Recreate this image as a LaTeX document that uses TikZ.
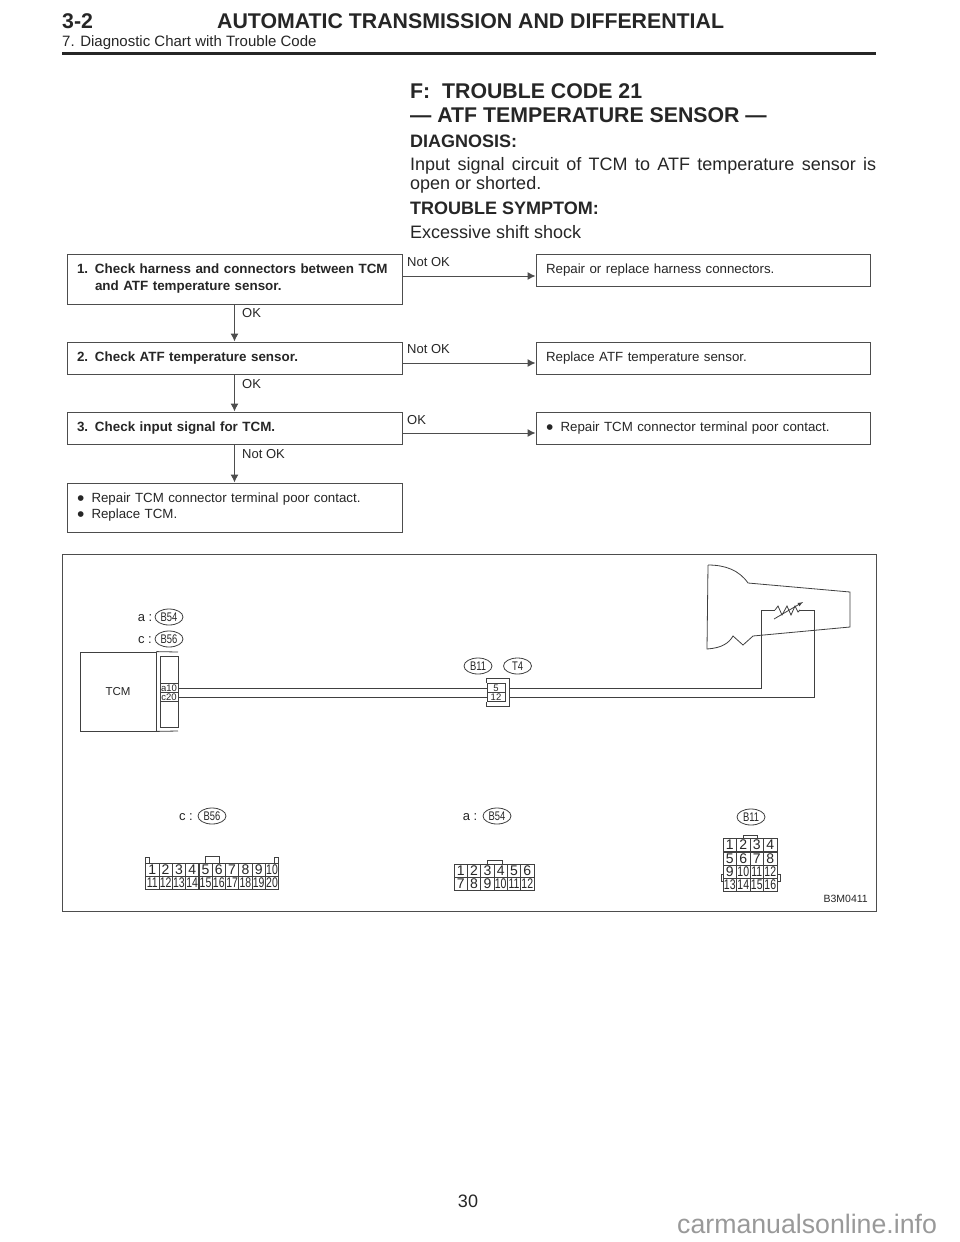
\documentclass[tikz,border=0pt]{standalone}
\usepackage{fontspec}
\setmainfont{Liberation Sans}
\newfontfamily\wirefont[FakeStretch=0.75]{Liberation Sans}
\usetikzlibrary{shapes.geometric,arrows.meta}
\definecolor{mantext}{HTML}{262626}
\definecolor{manline}{HTML}{4D4D4D}
\definecolor{manwire}{HTML}{404040}
\definecolor{manmark}{HTML}{999999}
\newcommand{\stepno}[1]{\makebox[18pt][l]{#1}}
\newcommand{\dotmark}{\makebox[14.5pt][l]{\raisebox{-2.6pt}{\fontsize{21}{16}\selectfont\textbullet}}}
\newcommand{\pinno}[1]{\ifnum#1<10 #1\else{\wirefont#1}\fi}

\begin{document}
\begin{tikzpicture}[
        x=1pt, y=-1pt,
        every node/.style={text=mantext},
        txt/.style={anchor=base west, inner sep=0pt},
        step box/.style={
          draw=manline, line width=1pt, fill=white,
          minimum width=335pt, text width=315pt,
          inner xsep=10pt, inner ysep=0pt, align=left,
          font=\fontsize{13.4}{17}\selectfont\bfseries,
        },
        fix box/.style={
          draw=manline, line width=1pt, fill=white,
          minimum width=334pt, minimum height=32pt, text width=314pt,
          inner xsep=10pt, inner ysep=0pt, align=left,
          font=\fontsize{13.3}{17}\selectfont,
        },
        flow/.style={-{Latex[length=8pt,width=8pt]}, draw=manline, line width=1pt},
        lbl/.style={txt, font=\fontsize{13}{15}\selectfont},
        wire/.style={draw=manwire, line width=0.8pt},
        plug/.style={draw=manwire, line width=0.8pt, ellipse, inner sep=0pt,
          minimum width=28pt, minimum height=16pt,
          font=\wirefont\fontsize{12.5}{14}\selectfont},
        side/.style={inner sep=0pt, font=\fontsize{13}{14}\selectfont},
        term/.style={draw=manwire, line width=0.8pt, inner sep=0pt,
          minimum width=18pt, minimum height=9pt,
          font=\fontsize{9.5}{10}\selectfont},
        pin/.style={draw=manwire, line width=0.7pt, inner sep=0pt,
          minimum width=13.4pt, minimum height=13pt,
          font=\fontsize{14}{14}\selectfont},
      ]
      \path[fill=white] (0,0) rectangle (960,1242);
      \useasboundingbox (0,0) rectangle (960,1242);

      % page head
      \node[txt, font=\fontsize{21.3}{24}\selectfont\bfseries] (hnum) at (62,28) {3-2};
      \node[txt, font=\fontsize{21.3}{24}\selectfont\bfseries] (htitle) at (217,28) {AUTOMATIC TRANSMISSION AND DIFFERENTIAL};
      \node[txt, font=\fontsize{15}{18}\selectfont] (hsub) at (62,46) {7. Diagnostic Chart with Trouble Code};
      \fill[mantext] (62,51.5) rectangle (876,54.5);

      % heading block
      \node[txt, font=\fontsize{21.3}{24}\selectfont\bfseries] (ttl) at (410,98) {F:\ \ TROUBLE CODE 21};
      \node[txt, font=\fontsize{21.3}{24}\selectfont\bfseries] (ttm) at (410,122) {--- ATF TEMPERATURE SENSOR ---};
      \node[txt, font=\fontsize{18}{20}\selectfont\bfseries] (diag) at (410,147) {DIAGNOSIS:};
      \node[anchor=north west, inner sep=0pt, text width=466pt, align=justify,
        font=\fontsize{18}{19}\selectfont] (diagt) at (410,157) {Input signal circuit of TCM to ATF temperature sensor is open or shorted.};
      \node[txt, font=\fontsize{18}{20}\selectfont\bfseries] (symp) at (410,214) {TROUBLE SYMPTOM:};
      \node[txt, font=\fontsize{18}{20}\selectfont] (sympt) at (410,238) {Excessive shift shock};

      % flow chart
      \node[step box, minimum height=50pt] (s1) at (234.5,279) {\stepno{1.}Check harness and connectors between TCM\\\stepno{}and ATF temperature sensor.};
      \node[step box, minimum height=32pt] (s2) at (234.5,358) {\stepno{2.}Check ATF temperature sensor.};
      \node[step box, minimum height=32pt] (s3) at (234.5,428) {\stepno{3.}Check input signal for TCM.};
      \node[step box, minimum height=49pt, font=\fontsize{13.3}{16}\selectfont] (s4) at (234.5,507.5) {\dotmark Repair TCM connector terminal poor contact.\\\dotmark Replace TCM.};
      \node[fix box] (r1) at (703,270) {Repair or replace harness connectors.};
      \node[fix box] (r2) at (703,358) {Replace ATF temperature sensor.};
      \node[fix box] (r3) at (703,428) {\dotmark Repair TCM connector terminal poor contact.};

      \draw[flow] (s1) -- (s2);
      \draw[flow] (s2) -- (s3);
      \draw[flow] (s3) -- (s4);
      \draw[flow] ([yshift=3pt]s1.east) -- ([yshift=-6pt]r1.west);
      \draw[flow] ([yshift=-5pt]s2.east) -- ([yshift=-5pt]r2.west);
      \draw[flow] ([yshift=-5pt]s3.east) -- ([yshift=-5pt]r3.west);

      \node[lbl] (l1) at (407,266) {Not OK};
      \node[lbl] (l2) at (407,353) {Not OK};
      \node[lbl] (l3) at (407,424) {OK};
      \node[lbl] (d1) at (242,317) {OK};
      \node[lbl] (d2) at (242,388) {OK};
      \node[lbl] (d3) at (242,458) {Not OK};

      % wiring frame
      \draw[manline, line width=1pt] (62,554) rectangle (876,911);
      \node[anchor=base east, inner sep=0pt, font=\fontsize{10.5}{12}\selectfont] (code) at (868,902) {B3M0411};

      % control unit
      \node[draw=manwire, line width=0.8pt, minimum width=76pt, minimum height=79pt, inner sep=0pt,
        font=\fontsize{11.5}{14}\selectfont] (tcm) at (118,691.5) {TCM};
      \draw[wire] (tcm.north east) -- (178,652);
      \draw[wire] (tcm.south east) -- (178,731);
      \draw[wire] (160,656) rectangle (178,727);
      \node[term, fill=white] (ta) at (169,688) {a10};
      \node[term, fill=white] (tc) at (169,697) {c20};

      \node[plug] (ua) at (169,617) {B54};
      \node[plug] (uc) at (169,639) {B56};
      \node[side] (sa) at (145,618) {a :};
      \node[side] (sc) at (145,640) {c :};

      % joint connector
      \draw[wire] (486,683) -- (486,678) -- (509,678) -- (509,706) -- (486,706) -- (486,702);
      \node[term] (p5) at (496,688) {5};
      \node[term] (p12) at (496,697) {12};
      \node[plug] (jb) at (478,666) {B11};
      \node[plug] (jt) at (517.5,666) {T4};

      % transmission and sensor
      \draw[wire] (708,565) -- (707,649) .. controls (722,648) and (729,643) .. (733,636)
        -- (743,645) -- (753,636) -- (850,627) -- (850,592) -- (748,583)
        .. controls (739,570) and (725,565) .. (708,565);
      \coordinate (rl) at (775,610);
      \coordinate (rr) at (800,610);
      \coordinate (ca) at (761,610);
      \coordinate (cb) at (814,610);
      \draw[wire] (rl) -- (778,606) -- (782,615) -- (787,606) -- (791,615) -- (795,606) -- (798,612) -- (rr);
      \coordinate (va) at (774,619);
      \coordinate (vb) at (803,602);
      \draw[wire, -latex] (va) -- (vb);

      \draw[wire] (ta) -- (p5);
      \draw[wire] (tc) -- (p12);
      \draw[wire] ([xshift=4pt]p5.east) -| (ca) -- (rl);
      \draw[wire] ([xshift=4pt]p12.east) -| (cb) -- (rr);

      % connector faces
      \node[side] (fc) at (186,817) {c :};
      \node[plug] (fcb) at (212,816) {B56};
      \node[side] (fa) at (470,817) {a :};
      \node[plug] (fab) at (497,816) {B54};
      \node[plug] (fbb) at (751,817) {B11};

      \draw[wire] (145.5,863) -- (145.5,857) -- (149,857) -- (149,863);
      \draw[wire] (274,863) -- (274,857) -- (278.5,857) -- (278.5,863);
      \draw[wire] (205,863) -- (205,856) -- (219,856) -- (219,863);
      \foreach \n in {1,...,10} {
        \pgfmathtruncatemacro{\m}{\n+10}
        \node[pin] (c\n) at ({139+13.3*\n},870) {\pinno{\n}};
        \node[pin] (c\m) at ({139+13.3*\n},883) {\pinno{\m}};
      }

      \draw[wire] (487,864) -- (487,860) -- (502,860) -- (502,864);
      \foreach \n in {1,...,6} {
        \pgfmathtruncatemacro{\m}{\n+6}
        \node[pin] (a\n) at ({447.5+13.3*\n},870.5) {\pinno{\n}};
        \node[pin] (a\m) at ({447.5+13.3*\n},884) {\pinno{\m}};
      }

      \draw[wire] (743,838) -- (743,835) -- (757,835) -- (757,838);
      \draw[wire] (723,874) -- (721,874) -- (721,881) -- (723,881);
      \draw[wire] (777,874) -- (780.5,874) -- (780.5,881) -- (777,881);
      \foreach \n in {1,...,4} {
        \pgfmathtruncatemacro{\p}{\n+4}
        \pgfmathtruncatemacro{\q}{\n+8}
        \pgfmathtruncatemacro{\r}{\n+12}
        \node[pin] (b\n) at ({716.3+13.5*\n},845) {\pinno{\n}};
        \node[pin] (b\p) at ({716.3+13.5*\n},858.5) {\pinno{\p}};
        \node[pin] (b\q) at ({716.3+13.5*\n},871.5) {\pinno{\q}};
        \node[pin] (b\r) at ({716.3+13.5*\n},885) {\pinno{\r}};
      }

      % page foot
      \node[anchor=base, inner sep=0pt, font=\fontsize{18}{20}\selectfont] (page) at (468,1207) {30};
      \node[anchor=base west, inner sep=0pt, text=manmark, font=\fontsize{26.7}{28}\selectfont] (mark) at (677,1233) {carmanualsonline.info};
    \end{tikzpicture}
\end{document}
